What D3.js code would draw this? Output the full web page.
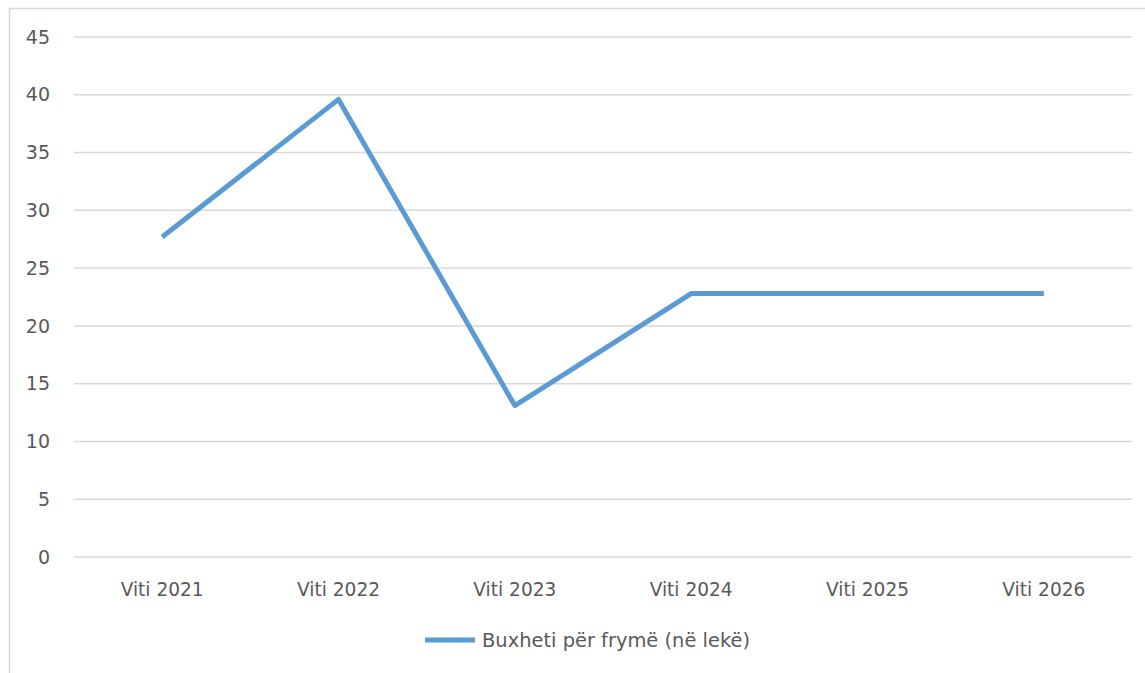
<!DOCTYPE html>
<html>
<head>
<meta charset="utf-8">
<script src="https://cdn.jsdelivr.net/npm/d3@7"></script>
<style>
  body { margin: 0; background: #fff; }
  svg text { font-family: "DejaVu Sans", sans-serif; fill: #595959; }
</style>
</head>
<body>
<svg id="mainsvg" width="1145" height="673"></svg>
<script>
// data
let years = ["Viti 2021", "Viti 2022", "Viti 2023", "Viti 2024", "Viti 2025", "Viti 2026"];
let budget = [27.7, 39.6, 13.1, 22.8, 22.8, 22.8];
let yTicks = [0, 5, 10, 15, 20, 25, 30, 35, 40, 45];
let seriesName = "Buxheti për frymë (në lekë)";

let svg = d3.select("#mainsvg");

// outer frame (only left and top are in view)
svg.append("rect")
    .attr("x", 9.5).attr("y", 8.5)
    .attr("width", 1200).attr("height", 700)
    .attr("fill", "none")
    .attr("stroke", "#d9d9d9")
    .attr("stroke-width", 1.5);

let plotLeft = 74, plotRight = 1132, plotTop = 37, plotBottom = 557;

let x = d3.scalePoint().domain(years).range([plotLeft, plotRight]).padding(0.5);
let y = d3.scaleLinear().domain([0, 45]).range([plotBottom, plotTop]);

// grid
svg.append("g").selectAll("line").data(yTicks).enter()
    .append("line")
    .attr("x1", plotLeft).attr("x2", plotRight)
    .attr("y1", d => y(d)).attr("y2", d => y(d))
    .attr("stroke", "#d9d9d9")
    .attr("stroke-width", 1.5);

// y labels
svg.append("g").selectAll("text").data(yTicks).enter()
    .append("text")
    .attr("x", 50).attr("y", d => y(d))
    .attr("dy", "0.35em")
    .attr("text-anchor", "end")
    .attr("font-size", 19)
    .text(d => d);

// x labels
svg.append("g").selectAll("text").data(years).enter()
    .append("text")
    .attr("x", d => x(d)).attr("y", 596)
    .attr("text-anchor", "middle")
    .attr("font-size", 19)
    .attr("textLength", 83)
    .attr("lengthAdjust", "spacingAndGlyphs")
    .text(d => d);

// line
let line = d3.line()
    .x((d, i) => x(years[i]))
    .y(d => y(d));
svg.append("path")
    .datum(budget)
    .attr("d", line)
    .attr("fill", "none")
    .attr("stroke", "#5b9bd5")
    .attr("stroke-width", 5)
    .attr("stroke-linejoin", "round");

// legend
let lg = svg.append("g").attr("transform", "translate(425,640)");
lg.append("line")
    .attr("x1", 0).attr("x2", 50)
    .attr("stroke", "#5b9bd5").attr("stroke-width", 5);
lg.append("text")
    .attr("x", 57).attr("dy", "0.35em")
    .attr("font-size", 19)
    .attr("textLength", 268)
    .attr("lengthAdjust", "spacingAndGlyphs")
    .text(seriesName);
</script>
</body>
</html>
